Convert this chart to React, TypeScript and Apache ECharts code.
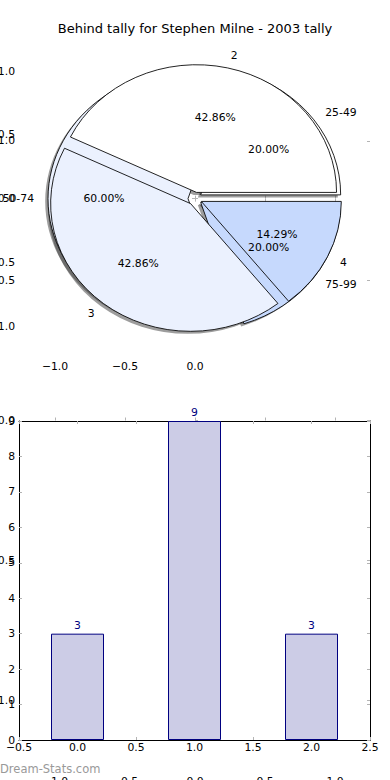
import React, { useEffect, useRef } from 'react';
import * as echarts from 'echarts';

const TITLE = 'Behind tally for Stephen Milne - 2003 tally';
const WATERMARK = 'Dream-Stats.com';

// Pie drawn on top (values 2/3/4)
const pieALabels = ['2', '3', '4'];
const pieAValues = [3, 3, 1];
// Pie drawn underneath (tally ranges)
const pieBLabels = ['25-49', '50-74', '75-99'];
const pieBValues = [3, 9, 3];
const pieColors = ['#ffffff', '#ebf1fe', '#c6d9fd'];

// Bar chart
const barPositions = [0, 1, 2];
const barValues = [3, 9, 3];

// Tick values
const pieTickValues = [-1, -0.5, 0, 0.5, 1];
const pieTopXLabelValues = [-1, -0.5, 0];

const FONT = 'DejaVu Sans';
const FS = 10.8;
const EXPLODE = 0.05;
const SHADOW_OFF = 0.02;

const fmt = (v: number) => (v < 0 ? '\u2212' : '') + Math.abs(v).toFixed(1);

function pieRender(values: number[], labels: string[], kind: string) {
  const total = values.reduce((a, b) => a + b, 0);
  return (params: any, api: any) => {
    const i = params.dataIndex;
    let cum = 0;
    for (let k = 0; k < i; k++) cum += values[k];
    const t1 = (cum / total) * 2 * Math.PI;
    const t2 = ((cum + values[i]) / total) * 2 * Math.PI;
    const tm = (t1 + t2) / 2;
    const c = api.coord([0, 0]);
    const s = api.size([1, 1]);
    const rx = s[0];
    const ry = s[1];
    const ex = c[0] + EXPLODE * Math.cos(tm) * rx;
    const ey = c[1] - EXPLODE * Math.sin(tm) * ry;
    const shape = { cx: 0, cy: 0, r: rx, r0: 0, startAngle: -t2, endAngle: -t1, clockwise: true };
    if (kind === 'shadow') {
      return {
        type: 'sector',
        x: ex - SHADOW_OFF * rx,
        y: ey + SHADOW_OFF * ry,
        scaleY: ry / rx,
        shape,
        style: { fill: 'rgba(60,60,60,0.5)' },
      };
    }
    if (kind === 'wedge') {
      return {
        type: 'sector',
        x: ex,
        y: ey,
        scaleY: ry / rx,
        shape,
        style: { fill: pieColors[i % pieColors.length], stroke: '#000', lineWidth: 0.9 },
      };
    }
    const cos = Math.cos(tm);
    const lx = ex + 1.1 * cos * rx;
    const ly = ey - 1.1 * Math.sin(tm) * ry;
    const px = ex + 0.6 * cos * rx;
    const py = ey - 0.6 * Math.sin(tm) * ry;
    return {
      type: 'group',
      children: [
        {
          type: 'text',
          x: lx,
          y: ly,
          style: {
            text: labels[i],
            fill: '#000',
            fontSize: FS,
            fontFamily: FONT,
            align: cos > 0 ? 'left' : 'right',
            verticalAlign: 'middle',
          },
        },
        {
          type: 'text',
          x: px,
          y: py,
          style: {
            text: ((values[i] / total) * 100).toFixed(2) + '%',
            fill: '#000',
            fontSize: FS,
            fontFamily: FONT,
            align: 'center',
            verticalAlign: 'middle',
          },
        },
      ],
    };
  };
}

const tickStyle = { inside: true, length: 3, lineStyle: { color: '#b4b4b4', width: 1 } };
const labelStyle = { color: '#000', fontSize: FS, fontFamily: FONT };

export default function App() {
  const ref = useRef<HTMLDivElement>(null);
  useEffect(() => {
    if (!ref.current) return;
    const chart = echarts.init(ref.current, undefined, { renderer: 'svg' });

    const pieSeries = (values: number[], labels: string[], kind: string, z: number, name: string) => ({
      type: 'custom',
      name,
      coordinateSystem: 'cartesian2d',
      xAxisIndex: 0,
      yAxisIndex: 0,
      z,
      silent: true,
      clip: false,
      encode: { x: 0, y: 1 },
      renderItem: pieRender(values, labels, kind),
      data: values.map((v, i) => ({ name: labels[i], value: [0, 0, v] })),
    });

    const option: any = {
      animation: false,
      backgroundColor: '#ffffff',
      textStyle: { fontFamily: FONT },
      grid: [
        { left: 20, right: 20, top: 71, height: 284, containLabel: false, outerBoundsMode: 'none' },
        { left: 19, right: 20, top: 421, height: 319, containLabel: false, outerBoundsMode: 'none' },
        { left: 20, right: 20, top: 71, height: 699, containLabel: false, outerBoundsMode: 'none' },
      ],
      xAxis: [
        {
          type: 'value', gridIndex: 0, min: -1.25, max: 1.25, position: 'bottom',
          axisLine: { show: false }, splitLine: { show: false },
          axisTick: { ...tickStyle, customValues: pieTickValues },
          axisLabel: { ...labelStyle, margin: 6, customValues: pieTopXLabelValues, formatter: fmt },
        },
        {
          type: 'value', gridIndex: 0, min: -1.25, max: 1.25, position: 'top',
          axisLine: { show: false }, splitLine: { show: false },
          axisTick: { ...tickStyle, customValues: pieTickValues },
          axisLabel: { show: false },
        },
        {
          type: 'value', gridIndex: 1, min: -0.5, max: 2.5, interval: 0.5, position: 'bottom',
          axisLine: { show: true, onZero: false, lineStyle: { color: '#000', width: 1 } },
          splitLine: { show: false },
          axisTick: tickStyle,
          axisLabel: { ...labelStyle, margin: 2, formatter: fmt },
        },
        {
          type: 'value', gridIndex: 1, min: -0.5, max: 2.5, interval: 0.5, position: 'top',
          axisLine: { show: true, onZero: false, lineStyle: { color: '#000', width: 1 } },
          splitLine: { show: false },
          axisTick: tickStyle,
          axisLabel: { show: false },
        },
        {
          type: 'value', gridIndex: 2, min: -1.25, max: 1.25, position: 'bottom',
          axisLine: { show: false }, splitLine: { show: false },
          axisTick: { ...tickStyle, customValues: pieTickValues },
          axisLabel: { ...labelStyle, margin: 6, customValues: pieTickValues, formatter: fmt },
        },
      ],
      yAxis: [
        {
          type: 'value', gridIndex: 0, min: -1.225, max: 1.0, position: 'left',
          axisLine: { show: false }, splitLine: { show: false },
          axisTick: { ...tickStyle, customValues: pieTickValues },
          axisLabel: { ...labelStyle, margin: 5, customValues: pieTickValues, formatter: fmt },
        },
        {
          type: 'value', gridIndex: 0, min: -1.225, max: 1.0, position: 'right',
          axisLine: { show: false }, splitLine: { show: false },
          axisTick: { ...tickStyle, customValues: pieTickValues },
          axisLabel: { show: false },
        },
        {
          type: 'value', gridIndex: 1, min: 0, max: 9, interval: 1, position: 'left',
          axisLine: { show: true, onZero: false, lineStyle: { color: '#000', width: 1 } },
          splitLine: { show: false },
          axisTick: tickStyle,
          axisLabel: { ...labelStyle, margin: 4 },
        },
        {
          type: 'value', gridIndex: 1, min: 0, max: 9, interval: 1, position: 'right',
          axisLine: { show: true, onZero: false, lineStyle: { color: '#000', width: 1 } },
          splitLine: { show: false },
          axisTick: tickStyle,
          axisLabel: { show: false },
        },
        {
          type: 'value', gridIndex: 2, min: -1.25, max: 1.25, position: 'left',
          axisLine: { show: false }, splitLine: { show: false },
          axisTick: { ...tickStyle, customValues: pieTickValues },
          axisLabel: { ...labelStyle, margin: 5, customValues: pieTickValues, formatter: fmt },
        },
        {
          type: 'value', gridIndex: 2, min: -1.25, max: 1.25, position: 'right',
          axisLine: { show: false }, splitLine: { show: false },
          axisTick: { ...tickStyle, customValues: pieTickValues },
          axisLabel: { show: false },
        },
      ],
      series: [
        pieSeries(pieBValues, pieBLabels, 'shadow', 1, 'shadowB'),
        pieSeries(pieAValues, pieALabels, 'shadow', 1, 'shadowA'),
        pieSeries(pieBValues, pieBLabels, 'wedge', 2, 'wedgesB'),
        pieSeries(pieAValues, pieALabels, 'wedge', 3, 'wedgesA'),
        pieSeries(pieBValues, pieBLabels, 'text', 5, 'labelsB'),
        pieSeries(pieAValues, pieALabels, 'text', 5, 'labelsA'),
        {
          type: 'bar',
          name: 'tally',
          xAxisIndex: 2,
          yAxisIndex: 2,
          barWidth: 53,
          z: 2,
          data: barPositions.map((p, i) => [p, barValues[i]]),
          itemStyle: { color: '#ccccE6', borderColor: '#000080', borderWidth: 1 },
          label: {
            show: true, position: 'top', distance: 3,
            color: '#000080', fontSize: FS, fontFamily: FONT,
            formatter: (p: any) => String(p.value[1]),
          },
        },
      ],
      graphic: [
        {
          type: 'text', left: 'center', top: 22,
          style: { text: TITLE, fill: '#000', fontSize: 13, fontFamily: FONT },
        },
        {
          type: 'text', left: 0, top: 763, z: 10,
          style: { text: WATERMARK, fill: '#999999', fontSize: 11.5, fontFamily: FONT },
        },
      ],
    };
    chart.setOption(option);
    return () => chart.dispose();
  }, []);
  return (
    <div
      ref={ref}
      style={{ position: 'fixed', left: 0, top: 0, width: 390, height: 780, background: '#fff' }}
    />
  );
}
